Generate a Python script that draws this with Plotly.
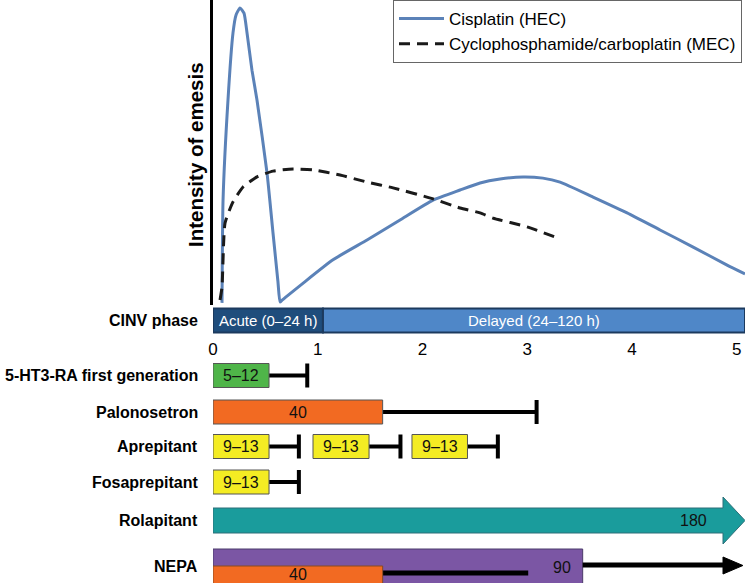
import plotly.graph_objects as go

# ---------------- data ----------------
# Intensity of emesis curves (x in days, intensity in arbitrary units 0-100)
hec_x = [0.086, 0.096, 0.143, 0.191, 0.220, 0.258, 0.296, 0.325, 0.372, 0.420, 0.516, 0.573, 0.620, 0.640, 0.660,
         1.146, 1.471, 1.786, 2.101, 2.359, 2.550, 2.741, 2.961, 3.150, 3.314, 3.629, 3.954, 4.269, 4.585, 4.909, 5.08]
hec_y = [0.7, 34.4, 67.2, 89.2, 95.1, 97.4, 95.7, 89.2, 77.0, 67.2, 43.3, 23.6, 7.7, 1.0, 1.6,
         14.8, 21.3, 27.9, 34.4, 37.7, 40.0, 41.3, 42.0, 41.6, 40.3, 35.4, 30.2, 24.6, 19.0, 13.1, 10.2]
mec_x = [0.067, 0.086, 0.115, 0.191, 0.287, 0.420, 0.573, 0.764, 0.955, 1.213, 1.471, 1.719, 2.101,
         2.359, 2.550, 2.674, 2.999, 3.266]
mec_y = [1.6, 5.9, 26.9, 33.8, 38.7, 42.0, 43.9, 44.6, 44.3, 42.6, 40.3, 38.4, 34.8,
         31.8, 30.2, 28.5, 25.6, 22.3]
series_names = ["Cisplatin (HEC)", "Cyclophosphamide/carboplatin (MEC)"]

x_ticks = [0, 1, 2, 3, 4, 5]

phase_names = ["Acute (0–24 h)", "Delayed (24–120 h)"]
phase_start = [0, 1.05]
phase_end = [1.05, 5.08]

drug_rows = ["5-HT3-RA first generation", "Palonosetron", "Aprepitant", "Fosaprepitant", "Rolapitant", "NEPA"]

# boxed half-life segments with whiskers
seg_drug = ["5-HT3-RA first generation", "Palonosetron", "Aprepitant", "Aprepitant", "Aprepitant", "Fosaprepitant"]
seg_start = [0, 0, 0, 0.955, 1.90, 0]
seg_end = [0.535, 1.62, 0.535, 1.49, 2.43, 0.535]
seg_whisker = [0.90, 3.09, 0.82, 1.79, 2.72, 0.82]
seg_label = ["5–12", "40", "9–13", "9–13", "9–13", "9–13"]

rola_end = 4.87
rola_label = "180"

nepa_netu_end = 3.53
nepa_netu_label = "90"
nepa_palo_end = 1.62
nepa_palo_label = "40"
nepa_palo_whisker = 3.01

# ---------------- layout constants ----------------
W, H = 749, 583
XMAX = 5.08
TOP_BOTTOM_PX = 305
ML, MR = 213, 4
FONT = "Liberation Sans, Arial"

row_y = {"CINV phase": 320.5, "5-HT3-RA first generation": 375.5, "Palonosetron": 412,
         "Aprepitant": 446.5, "Fosaprepitant": 482, "Rolapitant": 520.5, "NEPA": 566}
drug_color = {"5-HT3-RA first generation": "#4fb549", "Palonosetron": "#f26a22",
              "Aprepitant": "#f4ec23", "Fosaprepitant": "#f4ec23"}
phase_color = ["#1f4d7c", "#4f87c8"]

fig = go.Figure()
fig.add_trace(go.Scatter(x=hec_x, y=hec_y, mode="lines", name=series_names[0], legendgroup="a",
                         line=dict(color="#5b82b8", width=3, shape="spline", smoothing=0.5)))
fig.add_trace(go.Scatter(x=mec_x, y=mec_y, mode="lines", name=series_names[1], legendgroup="b",
                         line=dict(color="#1a1a1a", width=3, dash="11px,7px", shape="spline", smoothing=0.5)))

shapes = []
ann = []


def px_to_paper_y(py):
    return 1 - py / H


def px_to_paper_x(px):
    return (px - ML) / (W - ML - MR)


# CINV phase bar
yc = row_y["CINV phase"]
for i, nm in enumerate(phase_names):
    shapes.append(dict(type="rect", xref="x", yref="y2", x0=phase_start[i], x1=phase_end[i],
                       y0=yc - 12, y1=yc + 12, fillcolor=phase_color[i],
                       line=dict(color="#1c3a5e", width=2), layer="above"))
    ann.append(dict(x=(phase_start[i] + phase_end[i]) / 2, y=yc, xref="x", yref="y2", text=nm,
                    showarrow=False, xanchor="center", yanchor="middle",
                    font=dict(color="white", size=15, family=FONT)))

# row labels
for nm in ["CINV phase"] + drug_rows:
    ann.append(dict(x=px_to_paper_x(200), y=px_to_paper_y(row_y[nm]), xref="paper", yref="paper",
                    text="<b>%s</b>" % nm, showarrow=False, xanchor="right", yanchor="middle",
                    font=dict(size=16, color="black", family=FONT)))

HALF = 12
# boxes with whiskers
for d, s, e, w, lab in zip(seg_drug, seg_start, seg_end, seg_whisker, seg_label):
    yc = row_y[d]
    shapes.append(dict(type="line", xref="x", yref="y2", x0=e, x1=w, y0=yc, y1=yc,
                       line=dict(color="black", width=4)))
    shapes.append(dict(type="line", xref="x", yref="y2", x0=w, x1=w, y0=yc - HALF, y1=yc + HALF,
                       line=dict(color="black", width=4)))
    shapes.append(dict(type="rect", xref="x", yref="y2", x0=s, x1=e, y0=yc - HALF, y1=yc + HALF,
                       fillcolor=drug_color[d], line=dict(color="#555555", width=1)))
    ann.append(dict(x=(s + e) / 2, y=yc, xref="x", yref="y2", text=lab, showarrow=False,
                    xanchor="center", yanchor="middle",
                    font=dict(size=16, color="#111111", family=FONT)))

# Rolapitant arrow
yc = row_y["Rolapitant"]
path = "M 0,{a} L {b},{a} L {b},{c} L {t},{m} L {b},{d} L {b},{e} L 0,{e} Z".format(
    a=yc - 12.5, b=rola_end, c=yc - 23.5, t=XMAX, m=yc, d=yc + 23.5, e=yc + 12.5)
shapes.append(dict(type="path", xref="x", yref="y2", path=path, fillcolor="#1a9c9c",
                   line=dict(color="#2c6f78", width=1)))
ann.append(dict(x=rola_end - 0.28, y=yc, xref="x", yref="y2", text=rola_label, showarrow=False,
                xanchor="center", yanchor="middle",
                font=dict(size=16, color="#111111", family=FONT)))

# NEPA
yc = row_y["NEPA"]
shapes.append(dict(type="rect", xref="x", yref="y2", x0=0, x1=nepa_netu_end, y0=549, y1=590,
                   fillcolor="#7b56a4", line=dict(color="#4a3a6a", width=1)))
shapes.append(dict(type="line", xref="x", yref="y2", x0=nepa_netu_end, x1=rola_end, y0=565, y1=565,
                   line=dict(color="black", width=5)))
shapes.append(dict(type="path", xref="x", yref="y2",
                   path="M {b},557 L {t},565.5 L {b},574 Z".format(b=rola_end, t=XMAX - 0.02),
                   fillcolor="black", line=dict(color="black", width=1)))
shapes.append(dict(type="line", xref="x", yref="y2", x0=nepa_palo_end, x1=nepa_palo_whisker, y0=573, y1=573,
                   line=dict(color="black", width=5)))
shapes.append(dict(type="rect", xref="x", yref="y2", x0=0, x1=nepa_palo_end, y0=566, y1=590,
                   fillcolor="#f26a22", line=dict(color="#8a4a20", width=1)))
ann.append(dict(x=3.33, y=567, xref="x", yref="y2", text=nepa_netu_label, showarrow=False,
                xanchor="center", yanchor="middle",
                font=dict(size=16, color="#111111", family=FONT)))
ann.append(dict(x=nepa_palo_end / 2, y=574.5, xref="x", yref="y2", text=nepa_palo_label, showarrow=False,
                xanchor="center", yanchor="middle",
                font=dict(size=16, color="#111111", family=FONT)))

# y-axis title
ann.append(dict(x=px_to_paper_x(195), y=px_to_paper_y(155), xref="paper", yref="paper",
                text="<b>Intensity of emesis</b>", textangle=-90, showarrow=False,
                xanchor="center", yanchor="middle",
                font=dict(size=20.5, color="black", family=FONT)))

split = (H - TOP_BOTTOM_PX) / H
fig.update_layout(
    width=W, height=H, margin=dict(l=ML, r=MR, t=0, b=0),
    paper_bgcolor="white", plot_bgcolor="white",
    font=dict(family=FONT, color="black"),
    xaxis=dict(range=[0, XMAX], tickvals=x_ticks, showgrid=False, zeroline=False, showline=False,
               ticks="", tickfont=dict(size=17), anchor="free", position=1 - 337 / H),
    yaxis=dict(domain=[split, 1], range=[0, 100], showgrid=False, zeroline=False, showline=True,
               linecolor="black", linewidth=3, showticklabels=False, ticks=""),
    yaxis2=dict(domain=[0, split], range=[H, TOP_BOTTOM_PX], showgrid=False, zeroline=False,
                showticklabels=False, ticks="", showline=False),
    legend=dict(x=px_to_paper_x(393), y=1, xanchor="left", yanchor="top", bgcolor="white",
                bordercolor="#666666", borderwidth=1, font=dict(size=17), itemwidth=45,
                tracegroupgap=0),
    shapes=shapes, annotations=ann,
)
fig.write_html("out.html", config={"displayModeBar": False},
               post_script="document.body.style.margin='0';document.body.style.overflow='hidden';")
